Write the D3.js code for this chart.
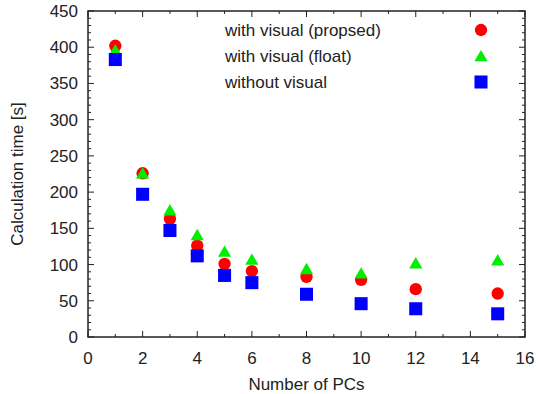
<!DOCTYPE html>
<html>
<head>
<meta charset="utf-8">
<script src="https://cdn.jsdelivr.net/npm/d3@7"></script>
<style>
  body { margin: 0; background: #fff; }
  text { font-family: "Liberation Sans", Arial, sans-serif; fill: #222; }
</style>
</head>
<body>
<div id="chart-area"></div>
<script>
// data
const pcs = [1, 2, 3, 4, 5, 6, 8, 10, 12, 15]
const proposed = [402, 226, 163, 126, 101, 91, 83, 79, 66, 60]
const float = [396, 226, 175, 141, 118, 107, 94, 88, 102, 106]
const without = [383, 197, 147, 112, 85, 75, 59, 46, 39, 32]
const xTicks = [0, 2, 4, 6, 8, 10, 12, 14, 16]
const yTicks = [0, 50, 100, 150, 200, 250, 300, 350, 400, 450]
const seriesNames = ["with visual (propsed)", "with visual (float)", "without visual"]

const W = 539, H = 394
const MARGIN = {LEFT: 88, RIGHT: 14, TOP: 11, BOTTOM: 57}
const WIDTH = W - MARGIN.LEFT - MARGIN.RIGHT
const HEIGHT = H - MARGIN.TOP - MARGIN.BOTTOM
const FS = "17px"

const svg = d3.select("#chart-area").append("svg")
  .attr("width", W)
  .attr("height", H)

const g = svg.append("g")
  .attr("transform", `translate(${MARGIN.LEFT}, ${MARGIN.TOP})`)

const x = d3.scaleLinear().domain([0, 16]).range([0, WIDTH])
const y = d3.scaleLinear().domain([0, 450]).range([HEIGHT, 0])

// ticks (major + minor, mirrored on all sides)
const ticks = g.append("g").attr("stroke", "#222").attr("stroke-width", 1)
d3.range(0, 17, 1).forEach(v => {
  const len = v % 2 === 0 ? 6 : 3
  ticks.append("line").attr("x1", x(v)).attr("x2", x(v)).attr("y1", HEIGHT).attr("y2", HEIGHT - len)
  ticks.append("line").attr("x1", x(v)).attr("x2", x(v)).attr("y1", 0).attr("y2", len)
})
d3.range(0, 451, 10).forEach(v => {
  const len = v % 50 === 0 ? 6 : 3
  ticks.append("line").attr("y1", y(v)).attr("y2", y(v)).attr("x1", 0).attr("x2", len)
  ticks.append("line").attr("y1", y(v)).attr("y2", y(v)).attr("x1", WIDTH).attr("x2", WIDTH - len)
})

// frame
g.append("rect")
  .attr("width", WIDTH).attr("height", HEIGHT)
  .attr("fill", "none").attr("stroke", "#222").attr("stroke-width", 1.5)

// tick labels
g.selectAll(".xt").data(xTicks).enter().append("text")
  .attr("x", d => x(d)).attr("y", HEIGHT + 27)
  .attr("text-anchor", "middle").attr("font-size", FS)
  .text(d => d)
g.selectAll(".yt").data(yTicks).enter().append("text")
  .attr("x", -10).attr("y", d => y(d) + 6)
  .attr("text-anchor", "end").attr("font-size", FS)
  .text(d => d)

// axis labels
g.append("text")
  .attr("x", WIDTH / 2).attr("y", HEIGHT + 53)
  .attr("text-anchor", "middle").attr("font-size", FS)
  .text("Number of PCs")
g.append("text")
  .attr("transform", "rotate(-90)")
  .attr("x", -HEIGHT / 2).attr("y", -65)
  .attr("text-anchor", "middle").attr("font-size", FS)
  .text("Calculation time [s]")

const circle = d3.symbol().type(d3.symbolCircle).size(120)
const triangle = d3.symbol().type(d3.symbolTriangle).size(75)
const square = d3.symbol().type(d3.symbolSquare).size(170)

const series = [
  {name: seriesNames[0], values: proposed, color: "#ff0000", sym: circle, dy: 0},
  {name: seriesNames[1], values: float, color: "#00ee00", sym: triangle, dy: 1.5},
  {name: seriesNames[2], values: without, color: "#0000ff", sym: square, dy: 0}
]

// draw in gnuplot order: red, green, blue
series.forEach(s => {
  g.append("g").selectAll("path").data(pcs).enter().append("path")
    .attr("d", s.sym())
    .attr("fill", s.color)
    .attr("transform", (d, i) => `translate(${x(d)}, ${y(s.values[i]) + s.dy})`)
})

// legend
const legend = g.append("g").attr("transform", "translate(137, 19)")
series.forEach((s, i) => {
  const row = legend.append("g").attr("transform", `translate(0, ${i * 26})`)
  row.append("text").attr("x", 0).attr("y", 6).attr("font-size", FS).text(s.name)
  row.append("path").attr("d", s.sym()).attr("fill", s.color)
    .attr("transform", `translate(256, ${s.dy})`)
})
</script>
</body>
</html>
